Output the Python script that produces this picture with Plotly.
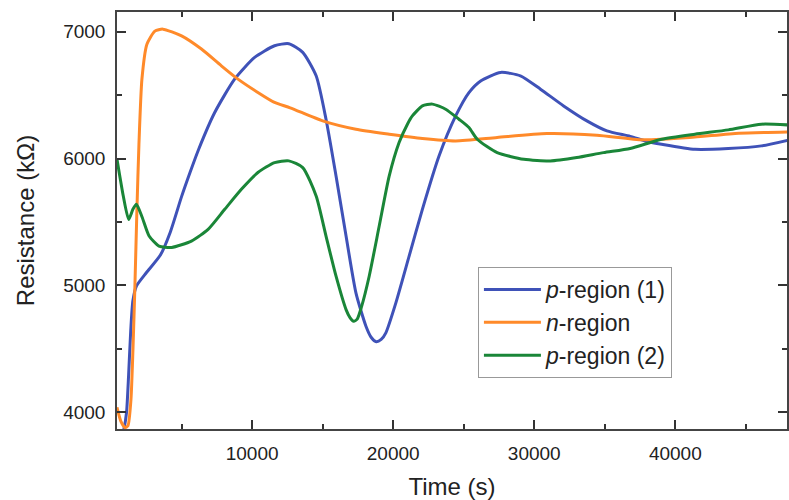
import plotly.graph_objects as go

# ---- data ----
time_p1 = [500, 900, 1100, 1250, 1400, 1550, 1800, 2500, 3500, 4200, 5000, 5600, 6200,
           7350, 8760, 10180, 11590, 12600, 13590, 14540, 15240, 15950, 16660, 17360,
           18070, 18450, 18800, 19150, 19480, 20190, 21130, 22070, 23250, 24430, 25370, 26200, 27610,
           29020, 30440, 32080, 33730, 35150, 36800, 38000, 39030, 41390, 43750, 46100, 48000]
res_p1 = [3700, 3860, 4000, 4300, 4650, 4880, 4995, 5100, 5240, 5420, 5700, 5890, 6070,
          6363, 6626, 6797, 6889, 6905, 6837, 6652, 6310, 5863, 5389, 4942,
          4679, 4590, 4557, 4575, 4627, 4863, 5231, 5600, 6020, 6336, 6520, 6612, 6679,
          6652, 6547, 6415, 6297, 6218, 6175, 6135, 6113, 6073, 6079, 6100, 6145]

time_n = [424, 700, 1000, 1200, 1413, 1555, 1696, 1837, 1979, 2190, 2544, 3110, 3675,
          5000, 6410, 7820, 9000, 10410, 11590, 12700, 15000, 17360, 19720, 22070,
          24430, 27370, 30900, 34440, 37700, 41000, 44500, 48000]
res_n = [4040, 3930, 3880, 3895, 4100, 4495, 5008, 5600, 6113, 6625, 6901, 7004, 7020,
         6967, 6863, 6731, 6626, 6521, 6442, 6400, 6297, 6231, 6192, 6158,
         6139, 6166, 6197, 6184, 6148, 6166, 6200, 6210]

time_p2 = [424, 870, 1250, 1550, 1800, 2200, 2700, 3400, 4300, 5700, 6880, 8060, 9240,
           10410, 11590, 12600, 13590, 14540, 15240, 15950, 16660, 16950, 17200, 17450, 17750, 18300,
           19010, 19720, 20420, 21010, 21360, 22070, 22780, 23720, 24660, 25370, 25960,
           27370, 29260, 31140, 33020, 34910, 36800, 39030, 41390, 43750, 46100, 48000]
res_p2 = [5995, 5705, 5520, 5600, 5640, 5540, 5390, 5310, 5300, 5350, 5442, 5600, 5758,
          5890, 5968, 5982, 5929, 5705, 5389, 5073, 4810, 4745, 4718, 4735, 4830, 5073,
          5468, 5863, 6126, 6271, 6336, 6415, 6429, 6389, 6310, 6245, 6152,
          6047, 5994, 5981, 6008, 6047, 6080, 6152, 6192, 6226, 6271, 6265]

series_names = ["<i>p</i>-region (1)", "<i>n</i>-region", "<i>p</i>-region (2)"]
colors = ["#3F52B8", "#FF8A2A", "#1A8638"]

FONT = "Arial, Liberation Sans, sans-serif"

fig = go.Figure()
for t, r, name, c in zip([time_p1, time_n, time_p2], [res_p1, res_n, res_p2], series_names, colors):
    fig.add_trace(go.Scatter(x=t, y=r, mode="lines", name=name,
                             line=dict(color=c, width=3, shape="spline", smoothing=0.6)))

axis_common = dict(
    showline=True, linecolor="#444", linewidth=1.5, mirror="ticks",
    ticks="inside", ticklen=9, tickwidth=1.5, tickcolor="#333",
    showgrid=False, zeroline=False, tickformat="d",
    tickfont=dict(family=FONT, size=19, color="#222"),
)

fig.update_layout(
    width=789, height=500,
    margin=dict(l=117, r=0, t=12, b=71),
    paper_bgcolor="white", plot_bgcolor="white",
    font=dict(family=FONT, color="#222"),
    xaxis=dict(range=[424, 47915], tickvals=[10000, 20000, 30000, 40000],
               minor=dict(tickvals=[5000, 15000, 25000, 35000, 45000], ticks="inside", ticklen=5,
                          tickwidth=1.5, tickcolor="#333"),
               title=dict(text="Time (s)", font=dict(family=FONT, size=24, color="#222"), standoff=17),
               ticklabelstandoff=6,
               **axis_common),
    yaxis=dict(range=[3869, 7155], tickvals=[4000, 5000, 6000, 7000],
               minor=dict(tickvals=[4500, 5500, 6500], ticks="inside", ticklen=5,
                          tickwidth=1.5, tickcolor="#333"),
               title=dict(text="Resistance (kΩ)", font=dict(family=FONT, size=24, color="#222"), standoff=22),
               ticklabelstandoff=6,
               **axis_common),
    legend=dict(x=0.5387, y=0.3885, xanchor="left", yanchor="top",
                bgcolor="white", bordercolor="#999", borderwidth=1,
                font=dict(family=FONT, size=23, color="#222"),
                itemwidth=57, tracegroupgap=0),
    showlegend=True,
)

fig.write_html("out.html")
